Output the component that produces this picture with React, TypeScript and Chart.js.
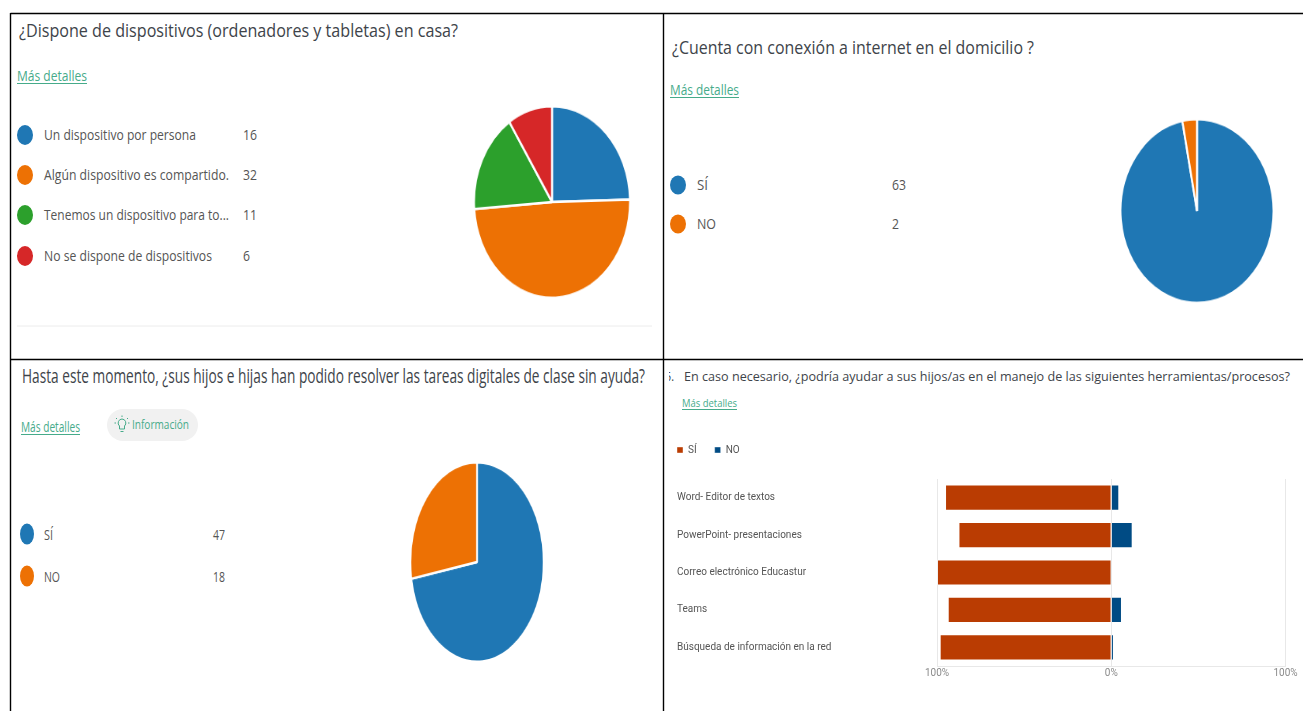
import React, { useEffect, useRef } from "react";
import { Chart, registerables } from "chart.js";

Chart.register(...registerables);

// ---- data ----
const deviceLabels = ["Un dispositivo por persona", "Algún dispositivo es compartido.", "Tenemos un dispositivo para to...", "No se dispone de dispositivos"];
const deviceValues = [16, 32, 11, 6];
const internetLabels = ["SÍ", "NO"];
const internetValues = [63, 2];
const homeworkLabels = ["SÍ", "NO"];
const homeworkValues = [47, 18];
const toolCategories = ["Word- Editor de textos", "PowerPoint- presentaciones", "Correo electrónico Educastur", "Teams", "Búsqueda de información en la red"];
const toolSi = [62, 57, 65, 61, 64];
const toolNo = [3, 8, 0, 4, 1];
const toolRespondents = 65;
const pieColors = ["#1f77b4", "#ed7104", "#2ca02c", "#d62728"];
const siColor = "#ba3c02";
const noColor = "#004b84";

const FONT = '"Open Sans", sans-serif';
const TITLE = "#3e444a";
const GREEN = "#46ab8a";
const LABEL = "#555555";

function T({ x, y, w, size, fill = LABEL, children, clip }: any) {
  return (
    <text x={x} y={y} fontSize={size} fill={fill} fontFamily={FONT} textLength={w} lengthAdjust="spacingAndGlyphs" clipPath={clip}>
      {children}
    </text>
  );
}

function Link({ x, y, w, size }: any) {
  return (
    <g>
      <T x={x} y={y} w={w} size={size} fill={GREEN}>Más detalles</T>
      <line x1={x} x2={x + w} y1={y + 2.5} y2={y + 2.5} stroke={GREEN} strokeWidth={1} />
    </g>
  );
}

function Pie({ values, cx, cy, rx, ry }: any) {
  const ref = useRef<HTMLCanvasElement>(null);
  useEffect(() => {
    const chart = new Chart(ref.current!, {
      type: "pie",
      data: { datasets: [{ data: values, backgroundColor: pieColors.slice(0, values.length), borderColor: "#ffffff", borderWidth: 2.5 }] },
      options: {
        animation: false,
        responsive: false,
        layout: { padding: 0 },
        plugins: { legend: { display: false }, tooltip: { enabled: false } },
      },
    });
    return () => chart.destroy();
  }, []);
  return (
    <div
      style={{
        position: "absolute",
        left: cx - 100,
        top: cy - 100,
        width: 200,
        height: 200,
        transform: `scale(${rx / 100}, ${ry / 100})`,
        transformOrigin: "center",
      }}
    >
      <canvas ref={ref} width={200} height={200} style={{ display: "block" }} />
    </div>
  );
}

function Bars() {
  const ref = useRef<HTMLCanvasElement>(null);
  useEffect(() => {
    const pct = (v: number) => (v / toolRespondents) * 100;
    const placeLegend = {
      id: "placeLegend",
      afterLayout(chart: any) {
        chart.legend.left = -5;
        chart.legend.top = -3;
      },
    };
    const chart = new Chart(ref.current!, {
      type: "bar",
      data: {
        labels: toolCategories,
        datasets: [
          { label: "SÍ", data: toolSi.map((v) => -pct(v)), backgroundColor: siColor, borderColor: "rgba(255,255,255,0.4)", borderWidth: 1 },
          { label: "NO", data: toolNo.map(pct), backgroundColor: noColor, borderColor: "rgba(255,255,255,0.4)", borderWidth: 1 },
        ],
      },
      plugins: [placeLegend],
      options: {
        animation: false,
        responsive: false,
        indexAxis: "y",
        layout: { padding: { left: 13, right: 17.5, top: 11, bottom: 25 } },
        datasets: { bar: { barPercentage: 0.7, categoryPercentage: 1 } },
        scales: {
          x: {
            stacked: true,
            min: -100,
            max: 100,
            afterFit(s: any) { s.height = 20; },
            grid: { color: "#e8e8e8", drawTicks: false },
            border: { color: "#e8e8e8" },
            ticks: {
              stepSize: 100,
              padding: 1,
              maxRotation: 0,
              color: "#8a8a8a",
              font: { family: "Roboto", size: 10 },
              callback: (v: any) => Math.abs(Number(v)) + "%",
            },
          },
          y: {
            stacked: true,
            afterFit(s: any) { s.width = 260; },
            grid: { display: false, drawTicks: false },
            border: { display: false },
            ticks: { crossAlign: "far", color: "#555555", font: { family: "Roboto", size: 10 } },
          },
        },
        plugins: {
          tooltip: { enabled: false },
          legend: {
            position: "top",
            align: "start",
            labels: { boxWidth: 6, boxHeight: 6, padding: 18, color: "#555555", font: { family: "Roboto", size: 10 } },
          },
        },
      },
    } as any);
    return () => chart.destroy();
  }, []);
  return <canvas ref={ref} width={639} height={281} style={{ position: "absolute", left: 664, top: 430, display: "block" }} />;
}

const deviceWidths = [152, 185, 185, 168];
const deviceDotY = [135, 175, 215, 256];
const valueWidth = (n: number) => (n < 10 ? 7 : 14);

export default function App() {
  return (
    <div style={{ position: "absolute", left: 0, top: 0, width: 1303, height: 711, background: "#fff", overflow: "hidden" }}>
      <svg width={1303} height={711} style={{ position: "absolute", left: 0, top: 0 }}>
        <defs>
          <clipPath id="c5"><rect x={669} y={360} width={30} height={40} /></clipPath>
        </defs>
        <g stroke="#000" strokeWidth={1.4}>
          <line x1={10.5} x2={1303} y1={13.5} y2={13.5} />
          <line x1={10.5} x2={1303} y1={359.5} y2={359.5} />
          <line x1={10.5} x2={10.5} y1={13} y2={711} />
          <line x1={663.5} x2={663.5} y1={13} y2={711} />
        </g>

        {/* panel 1 */}
        <T x={19} y={37} w={439} size={19} fill={TITLE}>¿Dispone de dispositivos (ordenadores y tabletas) en casa?</T>
        <Link x={17} y={81} w={70} size={14} />
        {deviceLabels.map((l, i) => (
          <g key={l}>
            <ellipse cx={25} cy={deviceDotY[i]} rx={8} ry={10} fill={pieColors[i]} />
            <T x={44} y={deviceDotY[i] + 5} w={deviceWidths[i]} size={14}>{l}</T>
            <T x={243} y={deviceDotY[i] + 5} w={valueWidth(deviceValues[i])} size={14}>{deviceValues[i]}</T>
          </g>
        ))}
        <line x1={17} x2={652} y1={326} y2={326} stroke="#ececec" strokeWidth={1} />

        {/* panel 2 */}
        <T x={672} y={54} w={362} size={19} fill={TITLE}>¿Cuenta con conexión a internet en el domicilio ?</T>
        <Link x={670} y={95} w={69} size={14} />
        {internetLabels.map((l, i) => (
          <g key={l}>
            <ellipse cx={678} cy={185 + i * 39} rx={8} ry={9.5} fill={pieColors[i]} />
            <T x={697} y={190 + i * 39} w={i === 0 ? 11 : 19} size={14}>{l}</T>
            <T x={892} y={190 + i * 39} w={valueWidth(internetValues[i])} size={14}>{internetValues[i]}</T>
          </g>
        ))}

        {/* panel 3 */}
        <T x={22} y={383} w={623} size={20} fill={TITLE}>Hasta este momento, ¿sus hijos e hijas han podido resolver las tareas digitales de clase sin ayuda?</T>
        <Link x={21} y={432} w={59} size={14} />
        <rect x={107} y={409} width={91} height={32} rx={16} fill="#f1f1f1" />
        <g stroke={GREEN} fill="none" strokeWidth={1}>
          <path d="M122 419 a4 4 0 0 1 2.5 7 v3 h-5 v-3 a4 4 0 0 1 2.5 -7 z" />
          <path d="M122 417 v-1.5 M117 419 l-1 -1 M127 419 l1 -1 M116 423 h-1.5 M128 423 h1.5 M120.5 431.5 h3" />
        </g>
        <T x={132} y={429} w={57} size={13} fill={GREEN}>Información</T>
        {homeworkLabels.map((l, i) => (
          <g key={l}>
            <ellipse cx={27} cy={534 + i * 42} rx={7} ry={10.5} fill={pieColors[i]} />
            <T x={44} y={540 + i * 42} w={i === 0 ? 9 : 16} size={15}>{l}</T>
            <T x={213} y={540 + i * 42} w={12} size={15}>{homeworkValues[i]}</T>
          </g>
        ))}

        {/* panel 4 */}
        <T x={665} y={381} w={9} size={13} fill={TITLE} clip="url(#c5)">5.</T>
        <T x={684} y={381} w={606} size={13} fill={TITLE}>En caso necesario, ¿podría ayudar a sus hijos/as en el manejo de las siguientes herramientas/procesos?</T>
        <Link x={682} y={407} w={55} size={10} />
      </svg>

      <Pie values={deviceValues} cx={552.3} cy={201.5} rx={79} ry={97} />
      <Pie values={internetValues} cx={1196.5} cy={211} rx={77.5} ry={93} />
      <Pie values={homeworkValues} cx={477} cy={562} rx={67.5} ry={101} />
      <Bars />
    </div>
  );
}
